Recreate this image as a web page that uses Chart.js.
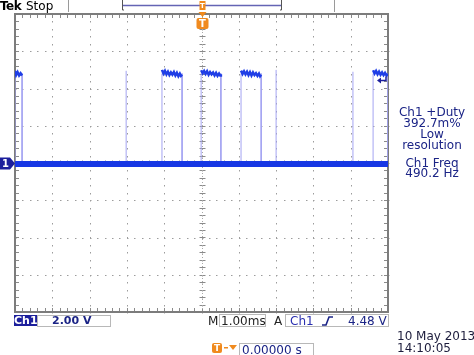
<!DOCTYPE html>
<html>
<head>
<meta charset="utf-8">
<script src="https://cdn.jsdelivr.net/npm/chart.js@4.4.1/dist/chart.umd.min.js"></script>
<style>
  body { margin: 0; background: #fff; }
  #wrap { position: relative; width: 474px; height: 355px; overflow: hidden; font-family: "DejaVu Sans", sans-serif; }
  #wrap canvas { position: absolute; left: 0; top: 0; }
  .t { position: absolute; white-space: nowrap; font-size: 12px; line-height: 12px; }
  .meas { position: absolute; left: 386px; width: 92px; text-align: center; color: #1b2486; font-size: 12px; line-height: 12px; white-space: nowrap; }
  .box { position: absolute; border: 1px solid #b8b8b8; box-sizing: border-box; }
</style>
</head>
<body>
<div id="wrap">
  <canvas id="scope" width="474" height="355"></canvas>

  <div class="t" style="left:0;top:0;font-weight:bold;font-size:12px;letter-spacing:-0.5px;color:#000;">Tek</div>
  <div class="t" style="left:26px;top:0;color:#000;">Stop</div>

  <div class="meas" style="top:106px;">Ch1 +Duty</div>
  <div class="meas" style="top:117px;">392.7m%</div>
  <div class="meas" style="top:128px;">Low</div>
  <div class="meas" style="top:139px;">resolution</div>
  <div class="meas" style="top:157px;">Ch1 Freq</div>
  <div class="meas" style="top:167px;">490.2 Hz</div>

  <div class="t" style="left:14px;top:315px;width:23px;height:11px;background:#1c1f9c;color:#fff;font-weight:bold;font-size:11px;line-height:11px;text-align:center;">Ch1</div>
  <div class="box" style="left:37px;top:315px;width:74px;height:12px;"></div>
  <div class="t" style="left:52px;top:315px;color:#1b2486;font-weight:bold;font-size:11px;">2.00 V</div>

  <div class="t" style="left:208px;top:315px;color:#222;">M</div>
  <div class="box" style="left:219px;top:314px;width:47px;height:13px;"></div>
  <div class="t" style="left:221px;top:315px;color:#222;">1.00ms</div>
  <div class="t" style="left:274px;top:315px;color:#222;">A</div>
  <div class="box" style="left:285px;top:314px;width:104px;height:13px;"></div>
  <div class="t" style="left:290px;top:315px;color:#2a2fb0;">Ch1</div>
  <svg style="position:absolute;left:321px;top:316px;" width="12" height="10"><polyline points="1,9 5,9 8,1 12,1" fill="none" stroke="#1b2486" stroke-width="1.6"/></svg>
  <div class="t" style="left:348px;top:315px;color:#1b2486;">4.48 V</div>

  <div class="box" style="left:239px;top:343px;width:75px;height:14px;"></div>
  <div class="t" style="left:242px;top:344px;color:#1b2486;">0.00000 s</div>

  <div class="t" style="left:397px;top:330px;color:#1c1c3c;">10 May 2013</div>
  <div class="t" style="left:397px;top:342px;color:#1c1c3c;">14:10:05</div>
</div>

<script>
// time in ms (1.00 ms/div, trigger at 0), voltage in V (2.00 V/div)
const pulseStart = [-5.00, -1.06, -0.01, 1.06, 4.60];
const pulseEnd = [-4.81, -0.52, 0.52, 1.60, 5.00];
const spikeTime = [-2.02, 2.00, 4.06];
const spikeTop = [4.95, 5.00, 4.90];
const lowLevel = -0.05;
const triggerLevel = 4.48;

// noisy top of each pulse
const pulse1T = [-5.00, -4.97, -4.93, -4.89, -4.85, -4.81];
const pulse1V = [4.95, 4.72, 4.88, 4.70, 4.82, 4.70];
const pulse2T = [-1.06, -1.02, -0.98, -0.94, -0.90, -0.86, -0.82, -0.78, -0.74, -0.70, -0.66, -0.62, -0.58, -0.55, -0.52];
const pulse2V = [5.00, 4.80, 4.95, 4.76, 4.90, 4.72, 4.86, 4.74, 4.88, 4.70, 4.84, 4.66, 4.80, 4.68, 4.74];
const pulse3T = [-0.01, 0.03, 0.07, 0.11, 0.15, 0.19, 0.23, 0.27, 0.31, 0.35, 0.39, 0.43, 0.47, 0.50, 0.52];
const pulse3V = [4.98, 4.82, 4.94, 4.78, 4.92, 4.74, 4.88, 4.76, 4.86, 4.70, 4.84, 4.68, 4.80, 4.70, 4.76];
const pulse4T = [1.06, 1.10, 1.14, 1.18, 1.22, 1.26, 1.30, 1.34, 1.38, 1.42, 1.46, 1.50, 1.54, 1.57, 1.60];
const pulse4V = [4.96, 4.78, 4.92, 4.76, 4.90, 4.72, 4.88, 4.70, 4.86, 4.72, 4.82, 4.68, 4.80, 4.66, 4.74];
const pulse5T = [4.60, 4.64, 4.68, 4.72, 4.76, 4.80, 4.84, 4.88, 4.92, 4.96, 5.00];
const pulse5V = [4.98, 4.80, 4.94, 4.76, 4.90, 4.74, 4.86, 4.72, 4.84, 4.70, 4.78];

const xMin = -5, xMax = 5, yMin = -8, yMax = 8;

// thin edge trace: low -> up -> high -> down for every pulse and glitch
const edges = [];
pulseStart.forEach((s, i) => {
  edges.push({ x: s, y: lowLevel }, { x: s, y: 4.8 }, { x: s, y: null });
  edges.push({ x: pulseEnd[i], y: 4.8 }, { x: pulseEnd[i], y: lowLevel }, { x: pulseEnd[i], y: null });
});
spikeTime.forEach((s, i) => {
  edges.push({ x: s, y: lowLevel }, { x: s, y: spikeTop[i] }, { x: s, y: null });
});

const zip = (t, v) => t.map((x, i) => ({ x, y: v[i] }));
const highSets = [[pulse1T, pulse1V], [pulse2T, pulse2V], [pulse3T, pulse3V], [pulse4T, pulse4V], [pulse5T, pulse5V]];

const datasets = [{
  label: 'edges',
  data: edges,
  borderColor: '#a4a4f2',
  borderWidth: 1,
  pointRadius: 0,
  spanGaps: false,
  order: 3
}, {
  label: 'low',
  data: [{ x: xMin, y: lowLevel }, { x: xMax, y: lowLevel }],
  borderColor: '#1737e4',
  borderWidth: 6,
  pointRadius: 0,
  order: 1
}];
highSets.forEach(([t, v], i) => {
  datasets.push({
    label: 'high' + (i + 1),
    data: zip(t, v),
    borderColor: '#1f3ee6',
    borderWidth: 2.5,
    pointRadius: 0,
    order: 2
  });
});

const ORANGE = '#f08a1e';
const NAVY = '#1c1f9c';

const scopeGrid = {
  id: 'scopeGrid',
  beforeDatasetsDraw(chart) {
    const { ctx, chartArea: a, scales: { x, y } } = chart;
    ctx.save();
    ctx.fillStyle = '#9c9c9c';
    // dotted graticule lines at each major division
    for (let i = xMin + 1; i < xMax; i++) {
      const px = Math.round(x.getPixelForValue(i));
      for (let v = yMin; v <= yMax + 0.001; v += 0.4) {
        ctx.fillRect(px, Math.round(y.getPixelForValue(v)), 1, 1.5);
      }
    }
    for (let j = yMin + 2; j < yMax; j += 2) {
      const py = Math.round(y.getPixelForValue(j));
      for (let t = xMin; t <= xMax + 0.001; t += 0.2) {
        ctx.fillRect(Math.round(x.getPixelForValue(t)), py, 1.5, 1);
      }
    }
    // minor ticks on the frame and the centre cross
    ctx.strokeStyle = '#8a8a8a';
    ctx.lineWidth = 1;
    ctx.beginPath();
    const cx = Math.round(x.getPixelForValue(0)) + 0.5;
    const cy = Math.round(y.getPixelForValue(0)) + 0.5;
    for (let t = xMin; t <= xMax + 0.001; t += 0.2) {
      const px = Math.round(x.getPixelForValue(t)) + 0.5;
      ctx.moveTo(px, a.top); ctx.lineTo(px, a.top + 4);
      ctx.moveTo(px, a.bottom); ctx.lineTo(px, a.bottom - 4);
      ctx.moveTo(px, cy - 3); ctx.lineTo(px, cy + 3);
    }
    for (let v = yMin; v <= yMax + 0.001; v += 0.4) {
      const py = Math.round(y.getPixelForValue(v)) + 0.5;
      ctx.moveTo(a.left, py); ctx.lineTo(a.left + 4, py);
      ctx.moveTo(a.right, py); ctx.lineTo(a.right - 4, py);
      ctx.moveTo(cx - 3, py); ctx.lineTo(cx + 3, py);
    }
    ctx.stroke();
    // centre cross as a fine dotted line
    ctx.strokeStyle = '#a8a8a8';
    ctx.setLineDash([1, 2]);
    ctx.beginPath();
    ctx.moveTo(cx, a.top); ctx.lineTo(cx, a.bottom);
    ctx.moveTo(a.left, cy); ctx.lineTo(a.right, cy);
    ctx.stroke();
    ctx.setLineDash([]);
    // frame
    ctx.strokeStyle = '#7c7c7c';
    ctx.lineWidth = 2;
    ctx.strokeRect(a.left, a.top, a.right - a.left, a.bottom - a.top);
    ctx.restore();
  },
  afterDraw(chart) {
    const { ctx, chartArea: a, scales: { x, y } } = chart;
    ctx.save();
    // top status bar
    ctx.strokeStyle = '#9a9a9a';
    ctx.lineWidth = 1;
    ctx.beginPath();
    ctx.moveTo(68.5, 0); ctx.lineTo(68.5, 12);
    ctx.moveTo(334.5, 0); ctx.lineTo(334.5, 12);
    ctx.stroke();
    ctx.strokeStyle = '#555';
    ctx.beginPath();
    ctx.moveTo(122.5, 0); ctx.lineTo(122.5, 10); ctx.lineTo(124, 10);
    ctx.moveTo(281.5, 0); ctx.lineTo(281.5, 10); ctx.lineTo(280, 10);
    ctx.stroke();
    ctx.strokeStyle = '#6464b4';
    ctx.lineWidth = 1.5;
    ctx.beginPath();
    ctx.moveTo(123, 5.5); ctx.lineTo(281, 5.5);
    ctx.stroke();

    // trigger position marker
    const tx = Math.round(x.getPixelForValue(0)) + 0.5;
    ctx.fillStyle = ORANGE;
    ctx.fillRect(tx - 3, 1, 6, 9);
    ctx.beginPath();
    ctx.moveTo(tx - 4, 12); ctx.lineTo(tx + 4, 12); ctx.lineTo(tx, 17); ctx.closePath();
    ctx.fill();
    ctx.beginPath();
    ctx.roundRect(tx - 6, 18, 12, 11, 2);
    ctx.fill();
    ctx.fillStyle = '#fff';
    ctx.font = 'bold 10px "DejaVu Sans"';
    ctx.textAlign = 'center';
    ctx.textBaseline = 'middle';
    ctx.fillText('T', tx, 24);
    ctx.font = 'bold 7px "DejaVu Sans"';
    ctx.fillText('T', tx, 6);

    // channel 1 ground marker
    const gy = Math.round(y.getPixelForValue(0)) + 0.5;
    ctx.fillStyle = NAVY;
    ctx.beginPath();
    ctx.moveTo(0, gy - 6); ctx.lineTo(10, gy - 6); ctx.lineTo(15, gy);
    ctx.lineTo(10, gy + 6); ctx.lineTo(0, gy + 6); ctx.closePath();
    ctx.fill();
    ctx.fillStyle = '#fff';
    ctx.font = 'bold 10px "DejaVu Sans"';
    ctx.fillText('1', 5.5, gy + 0.5);

    // trigger level arrow on the right edge
    const ty = Math.round(y.getPixelForValue(triggerLevel)) + 0.5;
    ctx.strokeStyle = NAVY;
    ctx.fillStyle = NAVY;
    ctx.lineWidth = 1.5;
    ctx.beginPath();
    ctx.moveTo(a.right - 2, ty - 4); ctx.lineTo(a.right - 2, ty); ctx.lineTo(a.right - 8, ty);
    ctx.stroke();
    ctx.beginPath();
    ctx.moveTo(a.right - 11, ty); ctx.lineTo(a.right - 7, ty - 3); ctx.lineTo(a.right - 7, ty + 3); ctx.closePath();
    ctx.fill();

    // bottom row orange trigger-delay icon
    ctx.fillStyle = ORANGE;
    ctx.beginPath();
    ctx.roundRect(212, 343, 10, 10, 2);
    ctx.fill();
    ctx.fillRect(224, 347, 4, 1.5);
    ctx.beginPath();
    ctx.moveTo(229, 345); ctx.lineTo(237, 345); ctx.lineTo(233, 350); ctx.closePath();
    ctx.fill();
    ctx.fillStyle = '#fff';
    ctx.font = 'bold 9px "DejaVu Sans"';
    ctx.fillText('T', 217, 348.5);
    ctx.restore();
  }
};

new Chart(document.getElementById('scope'), {
  type: 'line',
  data: { datasets },
  options: {
    responsive: false,
    animation: false,
    devicePixelRatio: 1,
    layout: { padding: { left: 15, top: 14, right: 86, bottom: 43 } },
    plugins: { legend: { display: false }, tooltip: { enabled: false } },
    elements: { line: { tension: 0, borderCapStyle: 'butt' } },
    scales: {
      x: { type: 'linear', min: xMin, max: xMax, display: false },
      y: { type: 'linear', min: yMin, max: yMax, display: false }
    }
  },
  plugins: [scopeGrid]
});
</script>
</body>
</html>
